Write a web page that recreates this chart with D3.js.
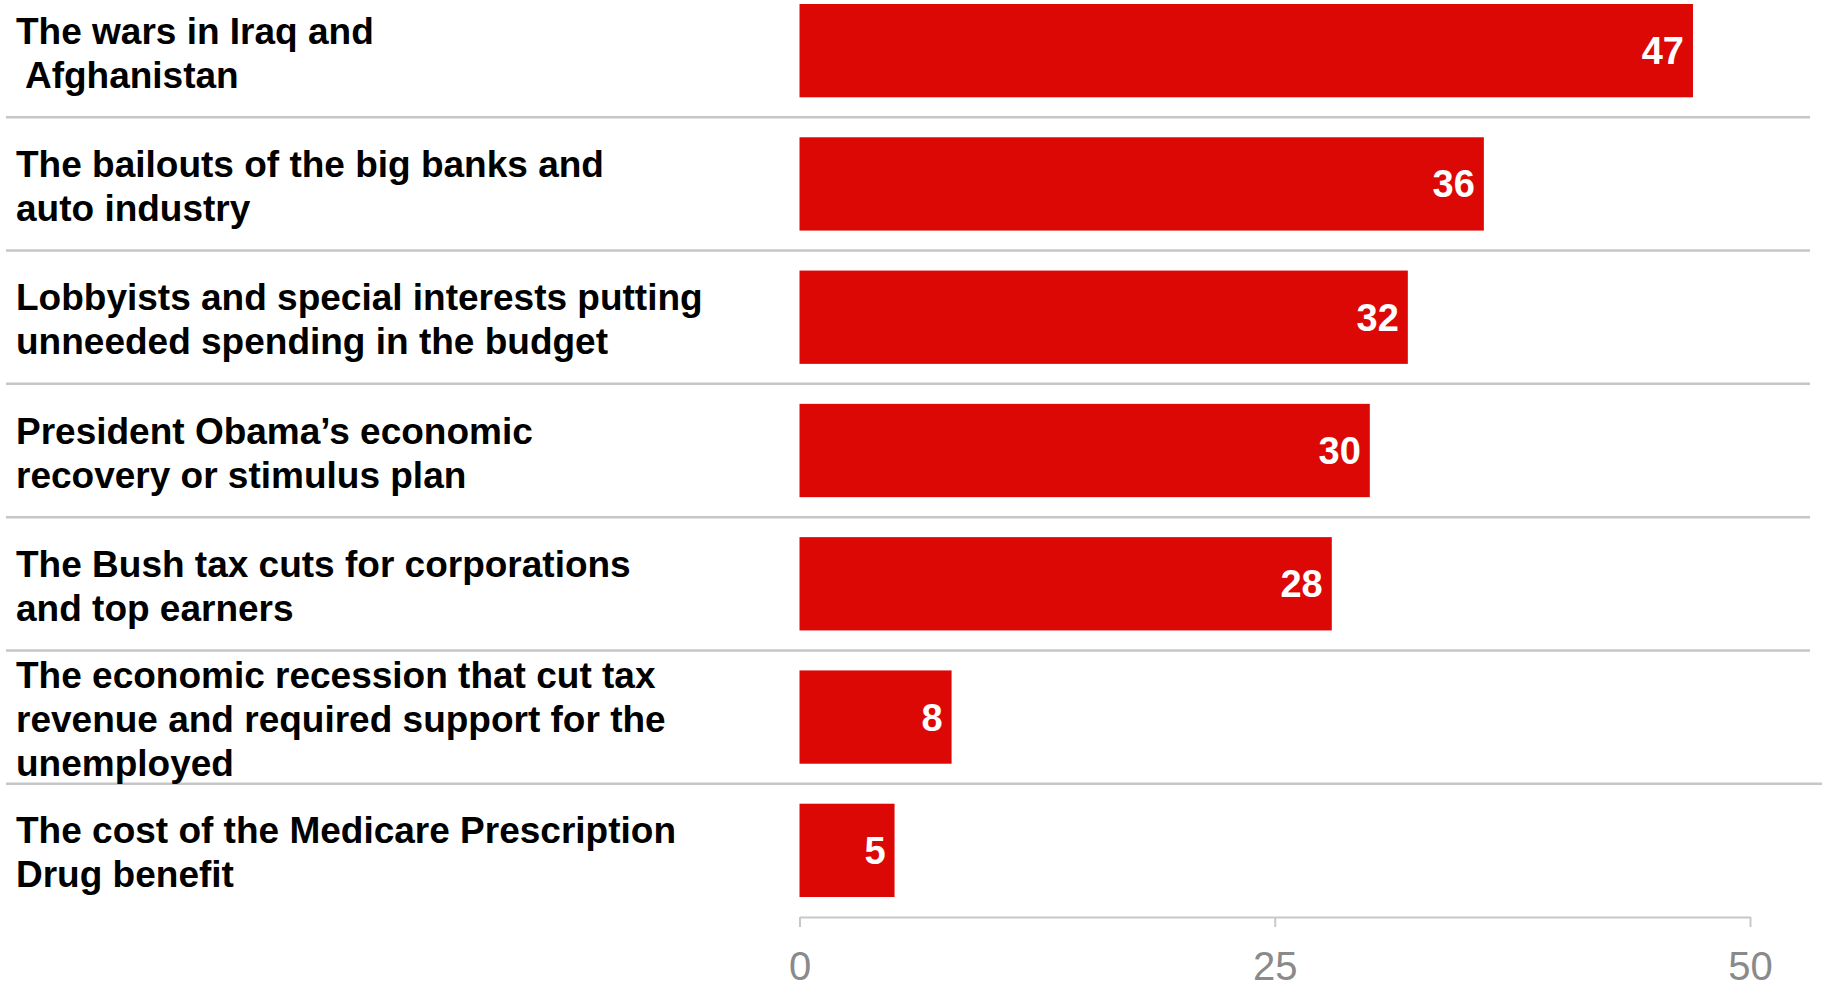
<!DOCTYPE html>
<html>
<head>
<meta charset="utf-8">
<script src="https://cdn.jsdelivr.net/npm/d3@7"></script>
<style>
  html, body { margin: 0; padding: 0; background: #fff; }
  svg { display: block; }
</style>
</head>
<body>
<svg id="chart" width="1822" height="985"></svg>
<script>
const categories = [
  ["The wars in Iraq and", " Afghanistan"],
  ["The bailouts of the big banks and", "auto industry"],
  ["Lobbyists and special interests putting", "unneeded spending in the budget"],
  ["President Obama\u2019s economic", "recovery or stimulus plan"],
  ["The Bush tax cuts for corporations", "and top earners"],
  ["The economic recession that cut tax", "revenue and required support for the", "unemployed"],
  ["The cost of the Medicare Prescription", "Drug benefit"]
];
const values = [47, 36, 32, 30, 28, 8, 5];
const tickValues = [0, 25, 50];

const svg = d3.select("#chart");
const ids = d3.range(categories.length);

const x = d3.scaleLinear().domain([0, 50]).range([799.5, 1750]);
const y = d3.scaleBand().domain(ids).range([-16, 917]).paddingInner(0.3).paddingOuter(0.15);

// separators
const seps = d3.range(1, categories.length).map(k => -16 + y.step() * k);
svg.append("g").selectAll("line").data(seps).join("line")
  .attr("x1", 6).attr("x2", (d, i) => i === seps.length - 1 ? 1822 : 1810)
  .attr("y1", d => d).attr("y2", d => d)
  .attr("stroke", "#c6c6c6").attr("stroke-width", 2.5);

// bars
svg.append("g").selectAll("rect").data(values).join("rect")
  .attr("x", x(0))
  .attr("y", (d, i) => y(i))
  .attr("width", d => x(d) - x(0))
  .attr("height", y.bandwidth())
  .attr("fill", "#dc0805");

// value labels
svg.append("g").selectAll("text").data(values).join("text")
  .attr("x", d => x(d) - 9)
  .attr("y", (d, i) => y(i) + y.bandwidth() / 2 + 13.5)
  .attr("text-anchor", "end")
  .attr("fill", "#fff")
  .attr("font-family", "Liberation Sans, Arial, sans-serif")
  .attr("font-weight", "bold")
  .attr("font-size", 38)
  .text(d => d);

// category labels
const lh = 44;
const lab = svg.append("g").selectAll("text").data(categories).join("text")
  .attr("font-family", "Liberation Sans, Arial, sans-serif")
  .attr("font-weight", "bold")
  .attr("font-size", 37)
  .attr("fill", "#000")
  .style("white-space", "pre")
  .attr("xml:space", "preserve");
lab.each(function(lines, i) {
  const c = y(i) + y.bandwidth() / 2;
  const first = c - (lines.length - 1) * lh / 2 + 15;
  d3.select(this).selectAll("tspan").data(lines).join("tspan")
    .attr("x", 16)
    .attr("y", (d, j) => first + j * lh)
    .text(d => d);
});

// axis
const axis = d3.axisBottom(x).tickValues(tickValues).tickSize(10).tickPadding(20).tickSizeOuter(0);
const ag = svg.append("g").attr("transform", "translate(0,917)").call(axis);
ag.select(".domain").attr("stroke", "#c8c8c8").attr("stroke-width", 2);
ag.selectAll(".tick line").attr("stroke", "#c8c8c8").attr("stroke-width", 2);
ag.selectAll(".tick text")
  .attr("fill", "#8a8a8a")
  .attr("font-family", "Liberation Sans Narrow, Liberation Sans, Arial, sans-serif")
  .attr("font-size", 40)
  .attr("dy", null)
  .attr("y", 63);
</script>
</body>
</html>
